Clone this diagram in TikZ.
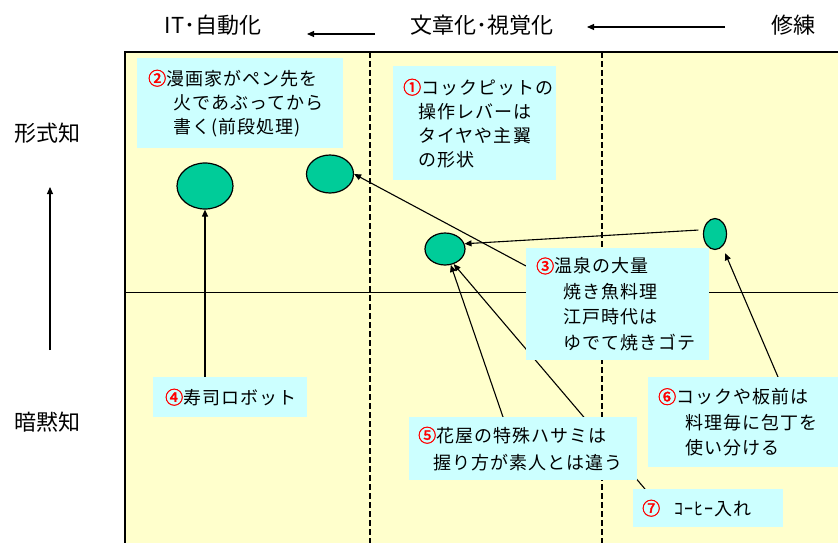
\documentclass[tikz,border=0pt]{standalone}
\usepackage{fontspec}
\setmainfont{Noto Sans CJK JP}
\newfontfamily\boxjp[LetterSpace=6]{Noto Sans CJK JP}
\usetikzlibrary{shapes.geometric,arrows.meta,calc}
\definecolor{panelfill}{HTML}{FFFFCC}
\definecolor{boxfill}{HTML}{CCFFFF}
\definecolor{blobfill}{HTML}{00CC99}
\definecolor{numred}{HTML}{FF0000}
\pgfdeclarelayer{bglayer}
\pgfdeclarelayer{midlayer}
\pgfsetlayers{bglayer,midlayer,main}
\newcommand\circnum[1]{{\addfontfeature{FakeBold=2}\textcolor{numred}{#1}}}
\begin{document}
\begin{tikzpicture}[x=1pt,y=-1pt,
  lbl/.style={font=\fontsize{22}{26}\selectfont, inner sep=0pt},
  note/.style={fill=boxfill, anchor=north west, align=left, inner ysep=2pt},
  blob/.style={ellipse, draw=black, line width=1.2pt, fill=blobfill, inner sep=0pt},
  arr/.style={line width=1.1pt, -{Triangle[length=7pt,width=6pt]}},
]
\useasboundingbox (0,0) rectangle (838,543);

% panel
\begin{pgfonlayer}{bglayer}
\fill[panelfill] (125,52) rectangle (838,543);
\draw[line width=0.9pt] (125,292) -- (838,292);
\draw[line width=1.2pt, dash pattern=on 6pt off 3pt] (370,52) -- (370,543);
\draw[line width=1.2pt, dash pattern=on 6pt off 3pt] (602,52) -- (602,543);
\draw[line width=1.5pt] (125,543) -- (125,52) -- (838,52);
\end{pgfonlayer}

% axis labels
\node[lbl] (it) at (213,25) {IT･自動化};
\node[lbl] (bun) at (482,25) {文章化･視覚化};
\node[lbl] (shu) at (793,25) {修練};
\node[lbl] (kei) at (47,133) {形式知};
\node[lbl] (an) at (47,422) {暗黙知};
\coordinate (a1s) at (375,34);
\coordinate (a1e) at (307,34);
\coordinate (a2s) at (725,27);
\coordinate (a2e) at (587,27);
\coordinate (a3s) at (50,350);
\coordinate (a3e) at (50,187);

% ellipses
\node[blob, minimum width=56pt, minimum height=46pt] (e1) at (205,186) {};
\node[blob, minimum width=47pt, minimum height=38pt] (e2) at (330,174) {};
\node[blob, minimum width=40pt, minimum height=32pt] (e3) at (445,249) {};
\node[blob, minimum width=23pt, minimum height=31pt] (e4) at (715,234) {};

% boxes
\node[note, text width=143pt, inner xsep=10pt, minimum height=114pt,
      font={\boxjp\fontsize{18}{24}\selectfont}] (b1) at (393,66)
  {\circnum{①}コックピットの\\\hspace*{15pt}操作レバーは\\\hspace*{15pt}タイヤや主翼\\\hspace*{15pt}の形状};
\node[note, text width=184pt, inner xsep=11pt, minimum height=90pt,
      font={\boxjp\fontsize{18}{24}\selectfont}] (b2) at (137,58)
  {\circnum{②}漫画家がペン先を\\\hspace*{25pt}火であぶってから\\\hspace*{25pt}書く(前段処理)};
\node[note, text width=163pt, inner xsep=10pt, minimum height=112pt,
      font={\boxjp\fontsize{18}{25.5}\selectfont}] (b3) at (526,248)
  {\circnum{③}温泉の大量\\\hspace*{27pt}焼き魚料理\\\hspace*{27pt}江戸時代は\\\hspace*{27pt}ゆでて焼きゴテ};
\node[note, text width=130pt, inner xsep=12pt, minimum height=40pt,
      font={\boxjp\fontsize{18}{24}\selectfont}] (b4) at (153,377)
  {\circnum{④}寿司ロボット};
\node[note, text width=210pt, inner xsep=9pt, minimum height=63pt,
      font={\boxjp\fontsize{18}{27}\selectfont}] (b5) at (409,417)
  {\circnum{⑤}花屋の特殊ハサミは\\\hspace*{15pt}握り方が素人とは違う};
\node[note, text width=170pt, inner xsep=10pt, minimum height=90pt,
      font={\boxjp\fontsize{18}{25.5}\selectfont}] (b6) at (648,377)
  {\circnum{⑥}コックや板前は\\\hspace*{27pt}料理毎に包丁を\\\hspace*{27pt}使い分ける};
\node[note, text width=132pt, inner xsep=9pt, minimum height=38pt,
      font={\boxjp\fontsize{18}{24}\selectfont}] (b7) at (633,489)
  {\circnum{⑦}\hspace{14pt}ｺｰﾋｰ入れ};

% connectors
\draw[arr] (a1s) -- (a1e);
\draw[arr] (a2s) -- (a2e);
\draw[arr] (a3s) -- (a3e);
\begin{pgfonlayer}{midlayer}
\draw[arr] (b4.north -| e1.south) -- (e1.south);
\draw[arr] ($(b3.north west)+(0,18)$) -- (e2.east);
\draw[arr, shorten <=5pt] (e4.160) -- (e3.15);
\draw[arr, shorten >=7pt] ($(b6.north west)+(130,0)$) -- (e4.300);
\draw[arr] ($(b5.north west)+(94,0)$) -- (e3.290);
\draw[arr] ($(b7.north west)+(12,0)$) -- (e3.300);
\end{pgfonlayer}
\end{tikzpicture}
\end{document}
